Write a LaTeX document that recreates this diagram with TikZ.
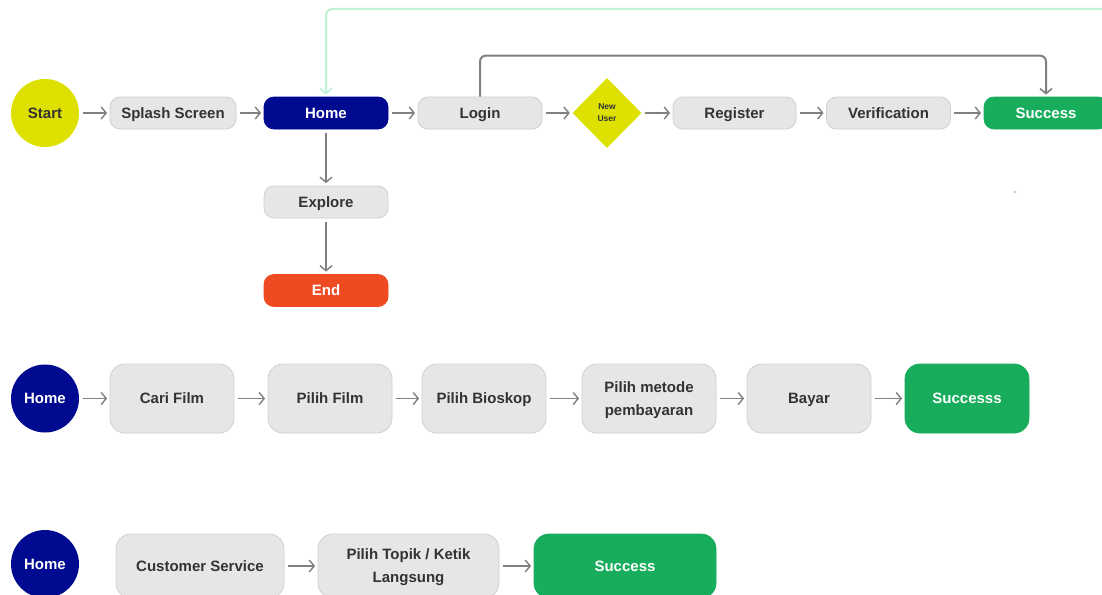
\documentclass[tikz,border=0pt]{standalone}
\usepackage{fontspec}
\setmainfont{Liberation Sans}
\usetikzlibrary{arrows.meta,shapes.geometric}
\definecolor{ylw}{RGB}{222,225,0}
\definecolor{navy}{RGB}{0,10,145}
\definecolor{endred}{RGB}{240,74,35}
\definecolor{grn}{RGB}{24,173,92}
\definecolor{mint}{RGB}{190,243,214}
\definecolor{boxfill}{RGB}{230,230,230}
\definecolor{boxline}{RGB}{208,208,208}
\definecolor{txt}{RGB}{51,51,51}
\definecolor{arrcol}{RGB}{128,128,128}
\begin{document}
\begin{tikzpicture}[x=1pt,y=-1pt,
  font=\fontsize{15}{23}\selectfont\bfseries,
  gbox/.style={draw=boxline, line width=0.8pt, fill=boxfill, rounded corners=10pt,
    minimum width=124pt, minimum height=32pt, text=txt, inner sep=0pt, align=center,
    text height=13pt, text depth=2.2pt},
  twoline/.style={text height=36pt, text depth=2.2pt},
  bigbox/.style={gbox, minimum height=69pt, rounded corners=15pt},
  homebox/.style={gbox, draw=navy, fill=navy, text=white},
  endbox/.style={gbox, draw=endred, fill=endred, text=white},
  succbox/.style={gbox, draw=grn, fill=grn, text=white},
  bigsucc/.style={bigbox, draw=grn, fill=grn, text=white},
  startc/.style={circle, fill=ylw, minimum size=68pt, inner sep=0pt, text=txt,
    text height=13pt, text depth=2.2pt},
  homec/.style={circle, fill=navy, minimum size=68pt, inner sep=0pt, text=white,
    text height=13pt, text depth=2.2pt},
  dia/.style={diamond, aspect=1, fill=ylw, minimum width=69pt, minimum height=70pt,
    inner sep=0pt, align=center, text=txt, font=\fontsize{8.5}{12}\selectfont\bfseries},
  arr/.style={draw=arrcol, line width=1.4pt, shorten >=2.5pt, shorten <=3.5pt,
    -{Straight Barb[length=5pt,width=12pt,line width=1.4pt]}},
  loopl/.style={draw=arrcol, line width=2pt, rounded corners=6pt, shorten >=2pt,
    -{Straight Barb[length=5pt,width=12pt,line width=1.6pt]}},
  greenl/.style={draw=mint, line width=2pt, rounded corners=6pt, shorten >=2pt,
    -{Straight Barb[length=5pt,width=12pt,line width=1.6pt]}}
]
\useasboundingbox (0,0) rectangle (1102,594);
\clip (0,0) rectangle (1102,594);
\fill[white] (0,0) rectangle (1102,594);

% Row 1
\node[startc] (start) at (45,113) {Start};
\node[gbox, minimum width=126pt] (splash) at (173,113) {Splash Screen};
\node[homebox] (home) at (326,113) {Home};
\node[gbox] (login) at (480,113) {Login};
\node[dia] (newu) at (607,113) {New\\User};
\node[gbox, minimum width=123pt] (reg) at (734.5,113) {Register};
\node[gbox] (ver) at (888.5,113) {Verification};
\node[succbox] (succ1) at (1046,113) {Success};
\node[gbox] (explore) at (326,202) {Explore};
\node[endbox] (end) at (326,290.5) {End};
\coordinate (gstart) at (1110,9);

\draw[arr] (start) -- (splash);
\draw[arr] (splash) -- (home);
\draw[arr] (home) -- (login);
\draw[arr] (login) -- (newu);
\draw[arr] (newu) -- (reg);
\draw[arr] (reg) -- (ver);
\draw[arr] (ver) -- (succ1);
\draw[arr] (home) -- (explore);
\draw[arr] (explore) -- (end);
\draw[loopl] (login.north) -- ++(0,-41) -| (succ1.north);
\draw[greenl] (gstart) -| (home.north);

\fill[black!20] (1015,192) circle (1.3pt);

% Row 2
\node[homec] (h2) at (45,398.5) {Home};
\node[bigbox] (cari) at (172,398.5) {Cari Film};
\node[bigbox] (pfilm) at (330,398.5) {Pilih Film};
\node[bigbox] (pbios) at (484,398.5) {Pilih Bioskop};
\node[bigbox, twoline, minimum width=134pt] (pmet) at (649,398.5) {Pilih metode\\pembayaran};
\node[bigbox] (bayar) at (809,398.5) {Bayar};
\node[bigsucc] (succ2) at (967,398.5) {Successs};
\draw[arr] (h2) -- (cari);
\draw[arr] (cari) -- (pfilm);
\draw[arr] (pfilm) -- (pbios);
\draw[arr] (pbios) -- (pmet);
\draw[arr] (pmet) -- (bayar);
\draw[arr] (bayar) -- (succ2);

% Row 3
\node[homec] (h3) at (45,564) {Home};
\node[bigbox, minimum width=168pt, minimum height=64pt] (cs) at (200,566) {Customer Service};
\node[bigbox, twoline, minimum width=181pt, minimum height=64pt] (topik) at (408.5,566) {Pilih Topik / Ketik\\Langsung};
\node[bigsucc, minimum width=182pt, minimum height=64pt] (succ3) at (625,566) {Success};
\draw[arr] (cs) -- (topik);
\draw[arr] (topik) -- (succ3);
\end{tikzpicture}
\end{document}
